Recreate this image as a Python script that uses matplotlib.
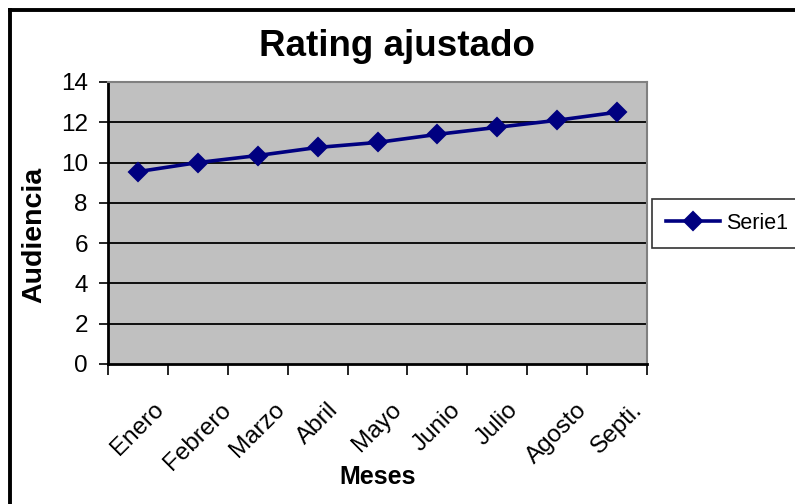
import numpy as np
import matplotlib
matplotlib.use("Agg")
import matplotlib.pyplot as plt
from matplotlib.lines import Line2D

plt.rcParams['font.family'] = ['Liberation Sans', 'DejaVu Sans']

# datos de la serie
meses = ["Enero", "Febrero", "Marzo", "Abril", "Mayo", "Junio", "Julio", "Agosto", "Septi."]
audiencia = [9.55, 10.0, 10.35, 10.75, 11.0, 11.4, 11.75, 12.1, 12.5]
y_ticks = [0, 2, 4, 6, 8, 10, 12, 14]

fig = plt.figure(figsize=(7.95, 5.04), dpi=100)
fig.patch.set_facecolor("white")

# marco exterior (solo izquierda y arriba)
fig.add_artist(Line2D([10 / 795, 10 / 795], [0, 1 - 10 / 504], color="black", lw=2.8,
                      transform=fig.transFigure, solid_capstyle="projecting"))
fig.add_artist(Line2D([10 / 795, 1], [1 - 10 / 504, 1 - 10 / 504], color="black", lw=2.8,
                      transform=fig.transFigure, solid_capstyle="projecting"))

ax = fig.add_axes([108 / 795, 140 / 504, 539 / 795, 282 / 504])
ax.set_facecolor("#c0c0c0")

x = np.arange(len(meses))
ax.plot(x, audiencia, color="#000080", lw=2.6, marker="D", markersize=9.5, markeredgewidth=1.5,
        markerfacecolor="#000080", markeredgecolor="#000080", label="Serie1", zorder=3)

ax.set_xlim(-0.5, len(meses) - 0.5)
ax.set_ylim(0, 14)

# lineas de division
for v in y_ticks[1:-1]:
    ax.axhline(v, color="black", lw=1.3, zorder=1)

ax.set_yticks(y_ticks)
ax.set_yticklabels([str(v) for v in y_ticks], fontsize=17.5)
ax.tick_params(axis="y", direction="out", length=6.5, width=1.2, pad=8)

# marcas entre categorias, etiquetas en el centro
ax.set_xticks(np.arange(-0.5, len(meses)), labels=[""] * (len(meses) + 1))
ax.tick_params(axis="x", which="major", direction="out", length=8, width=1.2)
ax.set_xticks(x, minor=True)
ax.set_xticklabels(meses, minor=True, rotation=45, ha="center", va="top", fontsize=17.5)
ax.tick_params(axis="x", which="minor", length=0, pad=25)

for s in ["left", "bottom"]:
    ax.spines[s].set_color("black")
    ax.spines[s].set_linewidth(2)
for s in ["top", "right"]:
    ax.spines[s].set_color("#808080")
    ax.spines[s].set_linewidth(1.5)

fig.text(397 / 795, 1 - 47 / 504, "Rating ajustado", ha="center", va="center",
         fontsize=26.5, fontweight="bold")
fig.text(34 / 795, 1 - 235 / 504, "Audiencia", ha="center", va="center", rotation=90,
         fontsize=20.5, fontweight="bold")
fig.text(378 / 795, 1 - 477 / 504, "Meses", ha="center", va="center",
         fontsize=18, fontweight="bold")

leg = fig.legend(loc="upper left", bbox_to_anchor=(652 / 795, 1 - 199 / 504),
                 fontsize=15.5, frameon=True, fancybox=False, handlelength=2.5,
                 borderpad=0.65, handletextpad=0.3, borderaxespad=0)
leg.get_frame().set_edgecolor("black")
leg.get_frame().set_linewidth(1.2)

fig.savefig("out.png", dpi=100)
